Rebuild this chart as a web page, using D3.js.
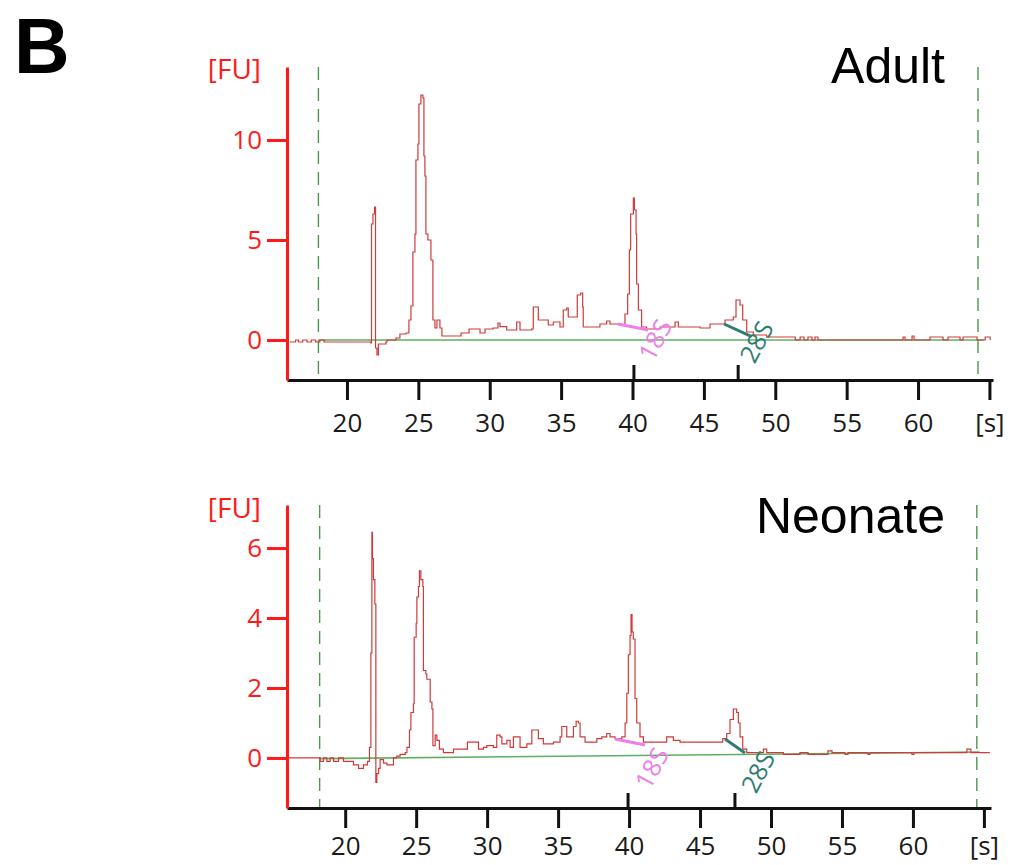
<!DOCTYPE html>
<html>
<head>
<meta charset="utf-8">
<script src="https://cdn.jsdelivr.net/npm/d3@7"></script>
<style>
body{margin:0;background:#fff;}
svg text{font-family:"Open Sans",sans-serif;}
</style>
</head>
<body>
<svg id="chart" width="1024" height="865"></svg>
<script>
// electropherogram data, [time s, FU]
var adultTrace = [
  [16.0,-0.1],[16.2,-0.1],[16.4,0.0],[16.6,-0.1],[16.9,0.0],[17.2,-0.1],[17.5,0.0],[17.8,-0.1],
  [18.1,0.0],[18.4,-0.1],[21.68,-0.15],[21.72,5.8],[21.82,6.3],[21.93,6.65],[22.0,-0.4],[22.1,-0.75],
  [22.2,-0.2],[22.73,-0.1],[22.8,0.0],[23.43,0.1],[23.71,0.3],[24.13,0.35],[24.34,1.0],[24.48,1.7],
  [24.62,4.4],[24.76,5.3],[24.83,9.0],[24.97,9.8],[25.04,11.8],[25.18,12.25],[25.32,12.1],[25.39,9.2],
  [25.46,8.2],[25.53,5.3],[25.67,5.0],[25.88,4.0],[26.02,1.0],[26.16,0.6],[26.3,1.0],[26.51,0.6],
  [26.65,0.2],[27.92,0.2],[27.99,0.35],[28.48,0.35],[28.55,0.55],[29.25,0.55],[29.32,0.35],[29.67,0.55],
  [30.23,0.6],[30.58,0.85],[30.72,0.67],[31.19,0.5],[31.89,0.9],[32.12,0.5],[32.94,0.55],[33.05,1.65],
  [33.24,1.65],[33.4,1.0],[34.1,0.75],[34.45,0.9],[34.92,0.65],[35.15,1.5],[35.39,1.6],[35.5,1.15],
  [35.97,1.15],[36.13,2.25],[36.37,2.35],[36.51,1.65],[36.55,0.65],[37.49,0.65],[37.72,0.8],[38.19,0.95],
  [38.42,0.8],[39.12,0.75],[39.47,1.3],[39.66,2.3],[39.78,4.5],[39.87,6.3],[40.06,7.1],[40.13,6.5],
  [40.25,5.3],[40.29,2.8],[40.41,1.5],[40.64,0.65],[40.99,0.55],[41.93,0.65],[42.39,0.65],[42.98,0.9],
  [43.21,0.65],[44.73,0.6],[45.43,0.8],[46.36,0.8],[46.48,1.0],[47.06,1.15],[47.25,2.0],[47.41,2.0],
  [47.53,1.75],[47.72,1.0],[48.0,0.4],[48.46,0.25],[49.4,0.15],[51.27,0.15],[51.4,0.0],[51.74,0.15],
  [52.01,0.0],[52.29,0.15],[52.57,0.0],[52.78,0.15],[52.99,0.0],[58.95,0.15],[59.09,0.0],[59.58,0.2],
  [59.72,0.0],[60.84,0.15],[61.54,0.15],[61.75,0.0],[62.1,0.15],[62.8,0.15],[62.94,0.0],[63.15,0.15],
  [63.99,0.15],[64.13,0.0],[64.7,0.15],[65.05,0.0]
];

var neonateTrace = [
  [15.92,0.0],[18.1,0.0],[18.24,-0.1],[18.47,0.0],[18.71,-0.1],[18.94,0.0],[19.18,-0.1],[19.53,0.0],
  [19.88,-0.1],[20.47,-0.1],[20.58,-0.2],[20.94,-0.3],[21.29,-0.2],[21.57,-0.1],[21.71,0.3],[21.81,3.0],
  [21.88,6.45],[21.92,5.7],[21.99,5.1],[22.09,4.4],[22.16,-0.7],[22.23,-0.45],[22.35,-0.3],[22.46,-0.05],
  [22.7,-0.15],[22.94,-0.2],[23.4,0.0],[23.64,0.05],[23.87,0.1],[24.23,0.15],[24.35,0.3],[24.53,0.8],
  [24.63,1.3],[24.81,1.55],[24.86,3.45],[25.0,3.85],[25.05,4.6],[25.16,4.9],[25.23,5.35],[25.33,5.1],
  [25.47,4.9],[25.51,2.5],[25.68,2.4],[25.75,2.25],[25.99,1.6],[26.11,1.4],[26.18,0.35],[26.34,0.65],
  [26.46,0.5],[26.64,0.25],[26.92,0.15],[27.51,0.15],[27.63,0.25],[28.57,0.25],[28.61,0.45],[29.27,0.45],
  [29.39,0.25],[29.74,0.3],[29.98,0.35],[30.44,0.3],[30.68,0.65],[30.92,0.6],[31.04,0.4],[31.39,0.5],
  [31.62,0.3],[31.85,0.6],[32.2,0.6],[32.32,0.3],[32.8,0.4],[33.03,0.4],[33.15,0.8],[33.5,0.8],
  [33.61,0.55],[33.96,0.4],[34.67,0.45],[35.14,0.6],[35.26,0.9],[35.49,0.9],[35.61,0.6],[36.08,0.9],
  [36.27,1.05],[36.43,1.0],[36.55,0.6],[36.9,0.45],[37.73,0.55],[38.08,0.6],[38.43,0.7],[38.66,0.6],
  [39.01,0.55],[39.49,0.6],[39.72,1.0],[39.84,1.85],[39.95,2.95],[40.07,3.5],[40.14,4.1],[40.21,3.6],
  [40.3,3.4],[40.42,1.7],[40.54,1.0],[40.77,0.6],[41.01,0.45],[42.42,0.45],[42.65,0.6],[43.12,0.5],
  [43.59,0.45],[44.3,0.45],[45.94,0.45],[46.6,0.55],[46.88,0.7],[47.11,1.1],[47.35,1.4],[47.58,1.3],
  [47.7,1.0],[47.82,0.6],[48.01,0.25],[48.29,0.15],[49.23,0.15],[49.46,0.25],[49.7,0.15],[50.87,0.1],
  [52.04,0.15],[52.61,0.1],[53.1,0.1],[54.01,0.2],[54.3,0.15],[55.21,0.1],[55.42,0.15],[56.83,0.1],
  [56.97,0.15],[57.68,0.15],[59.93,0.1],[60.07,0.15],[61.2,0.15],[63.66,0.15],[63.8,0.25],[64.08,0.15],
  [65.42,0.15]
];

var adultBaseline = [[18.0,0.0],[64.6,0.0]];
var neonateBaseline = [[18.2,-0.02],[64.7,0.17]];

var xTicks = [20,25,30,35,40,45,50,55,60,65];
var adultYTicks = [0,5,10];
var neonateYTicks = [0,2,4,6];

// dashed analysis window
var adultWindow = [18.0,64.2];
var neonateWindow = [18.2,64.5];

// 18S / 28S peak marks: tick time, line ends, label spot
var peakNames = ["18S","28S"];
var adultPeakTicks = [40.1,47.4];
var adultPeakLines = [[[38.98,0.8],[41.09,0.5]],[[46.41,0.8],[48.35,0.17]]];
var adultPeakLabels = [[41.6,0.0],[48.7,-0.1]];
var neonatePeakTicks = [39.93,47.46];
var neonatePeakLines = [[[39.01,0.54],[41.13,0.37]],[[46.76,0.54],[48.17,0.14]]];
var neonatePeakLabels = [[41.62,-0.29],[49.1,-0.4]];

var peakColors = ["#ee7fe8","#2f7d72"];

var svg = d3.select("#chart");

svg.append("text")
  .attr("x",14).attr("y",73)
  .style("font-family","'Liberation Sans',Arial,sans-serif")
  .style("font-weight","bold")
  .style("font-size","77px")
  .text("B");

//////////////////////////////////////////////////////////////////////
////////////////// one panel /////////////////////////////////////////
//////////////////////////////////////////////////////////////////////
function drawPanel(p){
  var g = svg.append("g");

  var x = d3.scaleLinear().domain(p.xDomain).range([287,p.xRight]);
  var y = d3.scaleLinear().domain(p.yDomain).range([p.yBottom,p.yTop]);

  var line = d3.line()
               .x(function(d){ return x(d[0]); })
               .y(function(d){ return y(d[1]); });

  // detector output is stair-stepped
  var stepLine = d3.line()
               .curve(d3.curveStepAfter)
               .x(function(d){ return x(d[0]); })
               .y(function(d){ return y(d[1]); });

  // analysis window
  g.selectAll(".win")
    .data(p.window)
    .enter()
    .append("line")
      .attr("class","win")
      .attr("x1",function(d){ return x(d); })
      .attr("x2",function(d){ return x(d); })
      .attr("y1",p.yTop)
      .attr("y2",p.yBottom)
      .attr("stroke","#4a9a4a")
      .attr("stroke-width",1.4)
      .attr("stroke-dasharray","13,8");

  // baseline
  g.append("path")
    .attr("d",line(p.baseline))
    .attr("fill","none")
    .attr("stroke","#5fae5f")
    .attr("stroke-width",1.6);

  // trace
  g.append("path")
    .attr("d",stepLine(p.trace))
    .attr("fill","none")
    .attr("stroke","#cf3b3b")
    .attr("stroke-width",1.2);

  // 18S / 28S marks
  g.selectAll(".peakLine")
    .data(p.peakLines)
    .enter()
    .append("path")
      .attr("class","peakLine")
      .attr("d",function(d){ return line(d); })
      .attr("stroke",function(d,i){ return peakColors[i]; })
      .attr("stroke-width",3);

  g.selectAll(".peakLabel")
    .data(p.peakLabels)
    .enter()
    .append("text")
      .attr("class","peakLabel")
      .attr("transform",function(d){ return `translate(${x(d[0])},${y(d[1])}) rotate(-62)`; })
      .attr("text-anchor","middle")
      .attr("dy","0.35em")
      .attr("fill",function(d,i){ return peakColors[i]; })
      .style("font-size","25px")
      .text(function(d,i){ return peakNames[i]; });

  // x axis
  var xAxis = d3.axisBottom(x)
                .tickValues(xTicks)
                .tickSize(20)
                .tickSizeOuter(0)
                .tickPadding(p.xPad)
                .tickFormat(function(d){ return d === 65 ? "[s]" : d; });

  var xg = g.append("g")
            .attr("transform",`translate(0,${p.yBottom})`)
            .call(xAxis);
  xg.select(".domain").attr("stroke","#111").attr("stroke-width",3);
  xg.selectAll(".tick line").attr("stroke","#111").attr("stroke-width",3);
  xg.selectAll(".tick text")
    .attr("fill","#1a1a1a")
    .style("font-family","'Open Sans',sans-serif")
    .style("font-size","26px");

  g.selectAll(".peakTick")
    .data(p.peakTicks)
    .enter()
    .append("line")
      .attr("class","peakTick")
      .attr("x1",function(d){ return x(d); })
      .attr("x2",function(d){ return x(d); })
      .attr("y1",p.yBottom - 15)
      .attr("y2",p.yBottom)
      .attr("stroke","#111")
      .attr("stroke-width",3);

  // y axis
  var yAxis = d3.axisLeft(y)
                .tickValues(p.yTicks)
                .tickSize(20)
                .tickSizeOuter(0)
                .tickPadding(5);

  var yg = g.append("g")
            .attr("transform","translate(287,0)")
            .call(yAxis);
  yg.select(".domain").attr("stroke","#ff1a1a").attr("stroke-width",3);
  yg.selectAll(".tick line").attr("stroke","#ff1a1a").attr("stroke-width",3);
  yg.selectAll(".tick text")
    .attr("fill","#ff1a1a")
    .style("font-family","'Open Sans',sans-serif")
    .style("font-size","26px");

  g.append("text")
    .attr("x",261).attr("y",p.fuY)
    .attr("text-anchor","end")
    .attr("fill","#ff1a1a")
    .style("font-size","28px")
    .text("[FU]");

  g.append("text")
    .attr("x",945).attr("y",p.titleY)
    .attr("text-anchor","end")
    .style("font-family","'Liberation Sans',Arial,sans-serif")
    .style("font-size","50px")
    .text(p.title);
}

drawPanel({
  title:"Adult", titleY:83, fuY:79, xPad:14,
  xDomain:[15.8,65.25], xRight:993,
  yDomain:[-2,13.65], yBottom:380, yTop:67,
  yTicks:adultYTicks, trace:adultTrace, baseline:adultBaseline, window:adultWindow,
  peakTicks:adultPeakTicks, peakLines:adultPeakLines, peakLabels:adultPeakLabels
});

drawPanel({
  title:"Neonate", titleY:533, fuY:518, xPad:9,
  xDomain:[15.9,65.5], xRight:991,
  yDomain:[-1.43,7.23], yBottom:808, yTop:505,
  yTicks:neonateYTicks, trace:neonateTrace, baseline:neonateBaseline, window:neonateWindow,
  peakTicks:neonatePeakTicks, peakLines:neonatePeakLines, peakLabels:neonatePeakLabels
});
</script>
</body>
</html>
